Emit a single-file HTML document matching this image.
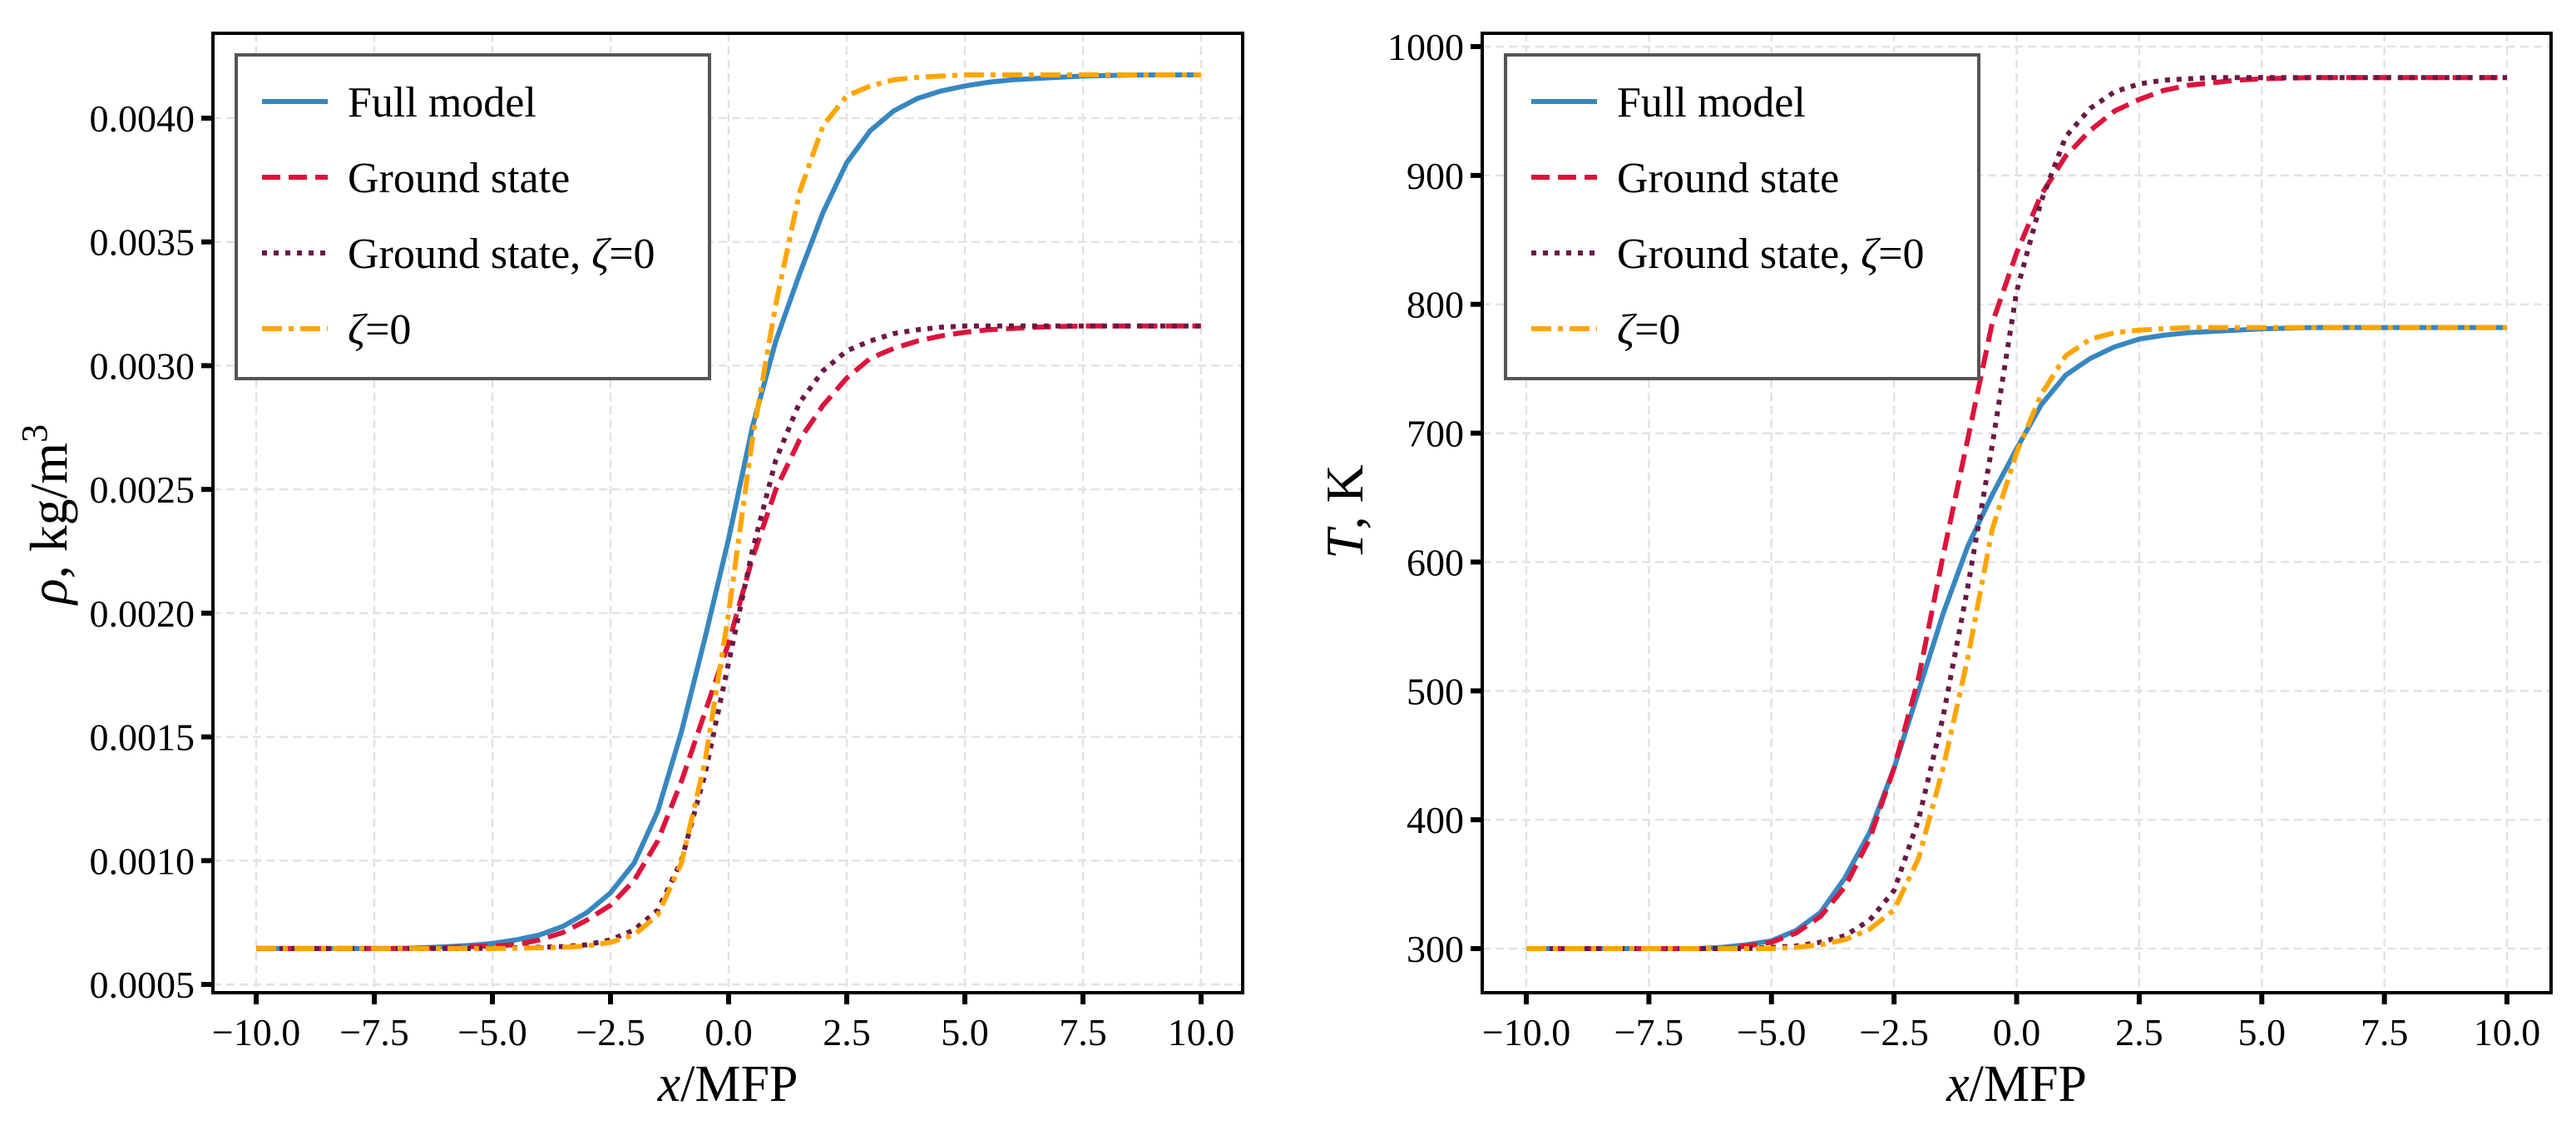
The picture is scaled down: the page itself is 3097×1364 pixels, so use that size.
<!DOCTYPE html>
<html><head><meta charset="utf-8">
<style>
html,body{margin:0;padding:0;background:#fff;}
svg{display:block;font-family:"Liberation Serif",serif;}
</style></head>
<body>
<svg id="fig" width="3097" height="1364" viewBox="0 0 3097 1364" xmlns="http://www.w3.org/2000/svg"></svg>
<script>
const xVals = [-10,-9.5,-9,-8.5,-8,-7.5,-7,-6.5,-6,-5.5,-5,-4.5,-4,-3.5,-3,-2.5,-2,-1.5,-1,-0.5,0,0.5,1,1.5,2,2.5,3,3.5,4,4.5,5,5.5,6,6.5,7,7.5,8,8.5,9,9.5,10];
// density (x1e-3 kg/m3)
const rhoFull   = [0.645,0.645,0.645,0.645,0.645,0.645,0.645,0.648,0.652,0.657,0.665,0.68,0.70,0.735,0.79,0.87,0.99,1.20,1.52,1.90,2.30,2.75,3.10,3.37,3.62,3.82,3.95,4.03,4.08,4.11,4.13,4.145,4.155,4.16,4.165,4.17,4.172,4.174,4.175,4.175,4.175];
const rhoGround = [0.645,0.645,0.645,0.645,0.645,0.645,0.645,0.646,0.648,0.652,0.655,0.66,0.68,0.71,0.76,0.82,0.92,1.08,1.32,1.60,1.88,2.22,2.50,2.70,2.84,2.95,3.03,3.07,3.10,3.12,3.135,3.145,3.15,3.155,3.158,3.16,3.16,3.16,3.16,3.16,3.16];
const rhoGroundZ= [0.645,0.645,0.645,0.645,0.645,0.645,0.645,0.645,0.645,0.645,0.646,0.648,0.650,0.653,0.66,0.68,0.72,0.80,1.00,1.35,1.80,2.25,2.62,2.85,2.98,3.06,3.10,3.13,3.145,3.155,3.16,3.16,3.16,3.16,3.16,3.16,3.16,3.16,3.16,3.16,3.16];
const rhoZeta   = [0.645,0.645,0.645,0.645,0.645,0.645,0.645,0.645,0.645,0.645,0.645,0.646,0.648,0.65,0.655,0.67,0.70,0.78,0.99,1.40,2.00,2.70,3.25,3.70,3.97,4.09,4.13,4.155,4.165,4.17,4.175,4.175,4.175,4.175,4.175,4.175,4.175,4.175,4.175,4.175,4.175];
// temperature (K)
const tFull   = [300,300,300,300,300,300,300,300,301,303,306,314,328,355,390,440,500,560,612,652,688,722,745,758,767,773,776,778,779,780,781,781.5,782,782,782,782,782,782,782,782,782];
const tGround = [300,300,300,300,300,300,300,300,300,302,305,312,325,348,385,440,510,605,695,785,840,885,915,935,950,959,966,970,972,974,975,975.5,976,976,976,976,976,976,976,976,976];
const tGroundZ= [300,300,300,300,300,300,300,300,300,300,301,302,305,310,322,345,400,480,580,690,810,880,930,952,965,971,974,975,976,976,976,976,976,976,976,976,976,976,976,976,976];
const tZeta   = [300,300,300,300,300,300,300,300,300,300,300,301,303,307,315,330,370,440,525,625,685,730,760,773,778,780,781,782,782,782,782,782,782,782,782,782,782,782,782,782,782];

const xTicks = [-10,-7.5,-5,-2.5,0,2.5,5,7.5,10];
const xTickLabels = ["\u221210.0","\u22127.5","\u22125.0","\u22122.5","0.0","2.5","5.0","7.5","10.0"];
const rhoTicks = [0.5,1.0,1.5,2.0,2.5,3.0,3.5,4.0];
const rhoTickLabels = ["0.0005","0.0010","0.0015","0.0020","0.0025","0.0030","0.0035","0.0040"];
const tTicks = [300,400,500,600,700,800,900,1000];
const tTickLabels = ["300","400","500","600","700","800","900","1000"];

const NS="http://www.w3.org/2000/svg";
const svg=document.getElementById('fig');
function mk(tag,attrs,parent){const e=document.createElementNS(NS,tag);for(const k in attrs)e.setAttribute(k,attrs[k]);(parent||svg).appendChild(e);return e;}

const styles=[
 {c:'#3787c0',d:'',name:'full-model'},
 {c:'#dc143c',d:'22 10',name:'ground-state'},
 {c:'#6b1846',d:'6 8',name:'ground-state-zeta0'},
 {c:'#ffa500',d:'24 8 6 8',name:'zeta0'}
];
const legendLabels=['Full model','Ground state','Ground state, <tspan font-style="italic">ζ</tspan>=0','<tspan font-style="italic">ζ</tspan>=0'];

function panel(o){
  const g=mk('g',{});
  
  
  const xs=v=>o.x10m+(v+10)/20*(o.x10p-o.x10m);
  const ys=v=>o.y0+(v-o.v0)/(o.v1-o.v0)*(o.y1-o.y0);
  xTicks.forEach(t=>{const l=mk('line',{x1:xs(t),x2:xs(t),y1:o.top,y2:o.bot,stroke:'#e2e2e2','stroke-width':2.5,'stroke-dasharray':'10 6'},g);});
  o.yt.forEach(t=>{const l=mk('line',{x1:o.left,x2:o.right,y1:ys(t),y2:ys(t),stroke:'#e2e2e2','stroke-width':2.5,'stroke-dasharray':'10 6'},g);});
  o.series.forEach((s,i)=>{
    const d=s.map((v,j)=>(j?'L':'M')+xs(xVals[j]).toFixed(1)+' '+ys(v).toFixed(1)).join(' ');
    const p=mk('path',{d:d,fill:'none',stroke:styles[i].c,'stroke-width':6,'stroke-dasharray':styles[i].d,'stroke-linejoin':'round'},g);
    
    
  });
  const f=mk('rect',{x:o.left,y:o.top,width:o.right-o.left,height:o.bot-o.top,fill:'none',stroke:'#000','stroke-width':4},g);
  
  xTicks.forEach((t,i)=>{
    mk('line',{x1:xs(t),x2:xs(t),y1:o.bot,y2:o.bot+14,stroke:'#000','stroke-width':6},g);
    const tx=mk('text',{x:xs(t),y:o.bot+63,'text-anchor':'middle','font-size':46},g);
    tx.textContent=xTickLabels[i];
    
  });
  o.yt.forEach((t,i)=>{
    mk('line',{x1:o.left-14,x2:o.left,y1:ys(t),y2:ys(t),stroke:'#000','stroke-width':6},g);
    const tx=mk('text',{x:o.left-22,y:ys(t)+16,'text-anchor':'end','font-size':46},g);
    tx.textContent=o.ytl[i];
    
  });
  const xl=mk('text',{x:(o.left+o.right)/2,y:o.bot+130,'text-anchor':'middle','font-size':62},g);
  xl.innerHTML='<tspan font-style="italic">x</tspan>/MFP';
  
  const yl=mk('text',{x:0,y:0,'text-anchor':'middle','font-size':64,transform:`translate(${o.ylx},${o.yly}) rotate(-90)`},g);
  yl.innerHTML=o.ylabel;
  
  const lg=mk('g',{},g);
  
  mk('rect',{x:o.lgx,y:66,width:569,height:389,fill:'#fff',stroke:'#555','stroke-width':4},lg);
  [122,213,304,395].forEach((yy,i)=>{
    const e=mk('g',{},lg);
    
    mk('line',{x1:o.lgx+31,x2:o.lgx+110,y1:yy,y2:yy,stroke:styles[i].c,'stroke-width':6,'stroke-dasharray':styles[i].d},e);
    const t=mk('text',{x:o.lgx+134,y:yy+18,'font-size':52},e);
    t.innerHTML=legendLabels[i];
  });
}
panel({name:'density-panel',left:256,right:1494,top:40,bot:1193,x10m:308,x10p:1444,y0:1183,y1:142,v0:0.5,v1:4.0,
  yt:rhoTicks,ytl:rhoTickLabels,series:[rhoFull,rhoGround,rhoGroundZ,rhoZeta],lgx:284,ylx:80,yly:618,
  ylabel:'<tspan font-style="italic">ρ</tspan>, kg/m<tspan dy="-24" font-size="44">3</tspan>'});
panel({name:'temperature-panel',left:1782,right:3067,top:40,bot:1193,x10m:1835,x10p:3014,y0:1140,y1:56,v0:300,v1:1000,
  yt:tTicks,ytl:tTickLabels,series:[tFull,tGround,tGroundZ,tZeta],lgx:1810,ylx:1638,yly:615,
  ylabel:'<tspan font-style="italic">T</tspan>, K'});
</script>
</body></html>
